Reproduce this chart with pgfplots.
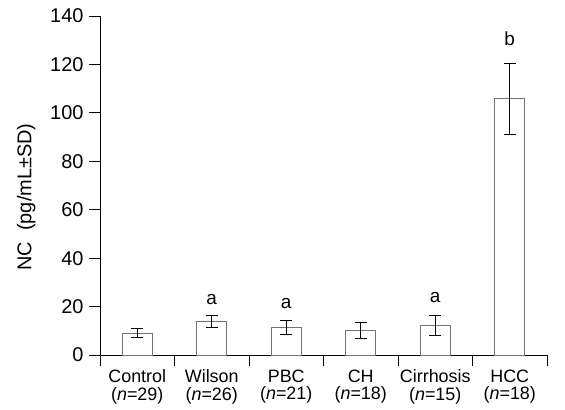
\documentclass[border=0pt]{standalone}
\usepackage{pgfplots}
\pgfplotsset{compat=1.18}
\usepackage{pgfplotstable}
\usepackage{fontspec}
\setmainfont{Liberation Sans}

\pgfplotstableread{
x y err
0.5 9.0 1.9
1.5 13.9 2.5
2.5 11.5 2.9
3.5 10.1 3.4
4.5 12.2 4.1
5.5 105.9 14.7
}\bars

\pgfplotstableread{
x y lab
1.5 20.7 a
2.5 19.1 a
4.5 21.7 a
5.5 127.9 b
}\sig

\begin{document}
\begin{tikzpicture}
\begin{axis}[
  scale only axis, width=447bp, height=339bp,
  xmin=0, xmax=6, ymin=0, ymax=140,
  axis x line*=bottom, axis y line*=left,
  axis line style={-, black, line width=0.8pt},
  font=\fontsize{18}{20}\selectfont,
  /pgf/number format/assume math mode=true,
  ytick={0,20,...,140},
  xtick={0.5,1.5,...,5.5},
  xticklabels={Control\\(\textit{n}=29), Wilson\\(\textit{n}=26), PBC\\(\textit{n}=21), CH\\(\textit{n}=18), Cirrhosis\\(\textit{n}=15), HCC\\(\textit{n}=18)},
  xticklabel style={align=center, font=\fontsize{18}{18}\selectfont},
  yticklabel style={font=\fontsize{20}{22}\selectfont, xshift=-2bp},
  major x tick style={draw=none},
  minor xtick={0,1,...,6},
  tick align=outside,
  major tick length=11bp, minor tick length=11bp,
  tick style={black, line width=0.8pt},
  ylabel={NC\ \ (pg/mL±SD)},
  ylabel style={font=\fontsize{20}{22}\selectfont, at={(axis description cs:-0.165,0.466)}, anchor=center},
  clip=false,
]
\addplot[ybar, bar width=0.4, fill=white, draw=black!55, line width=0.8pt,
  error bars/.cd, y dir=both, y explicit,
  error bar style={black, line width=0.8pt},
  error mark options={rotate=90, mark size=6bp, black, line width=0.8pt}]
  table[x=x, y=y, y error=err] {\bars};
\addplot[draw=none, mark=none, nodes near coords, point meta=explicit symbolic,
  nodes near coords style={anchor=base, inner sep=0pt, font=\fontsize{19}{20}\selectfont}]
  table[x=x, y=y, meta=lab] {\sig};
\end{axis}
\path[use as bounding box] ([xshift=-100bp,yshift=-55bp]current axis.south west) rectangle ([xshift=465bp,yshift=355bp]current axis.south west);
\end{tikzpicture}
\end{document}
